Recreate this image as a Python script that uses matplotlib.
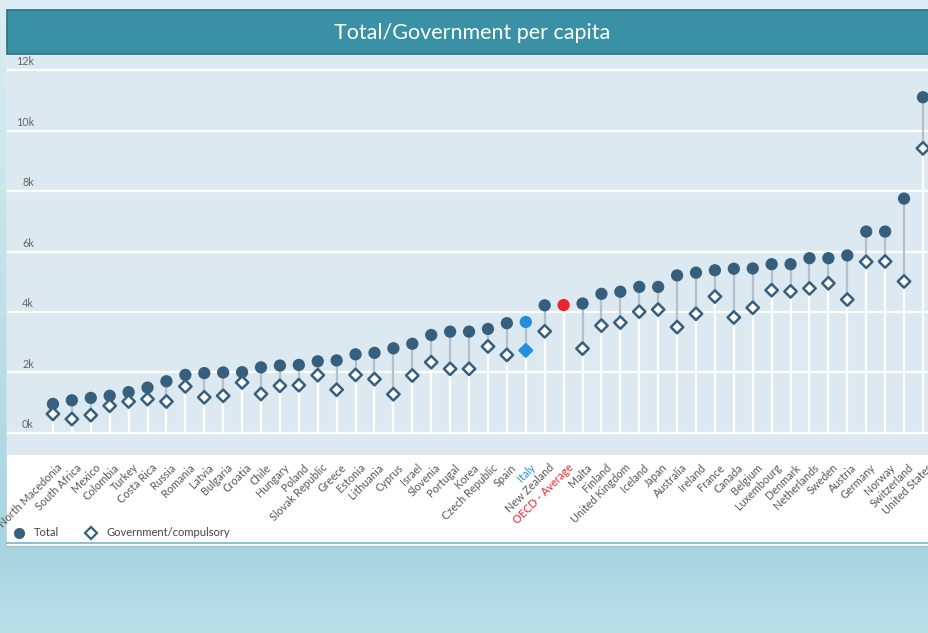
import numpy as np
import matplotlib.pyplot as plt
from matplotlib.patches import Rectangle
from matplotlib.lines import Line2D

countries = ["North Macedonia", "South Africa", "Mexico", "Colombia", "Turkey", "Costa Rica",
             "Russia", "Romania", "Latvia", "Bulgaria", "Croatia", "Chile", "Hungary", "Poland",
             "Slovak Republic", "Greece", "Estonia", "Lithuania", "Cyprus", "Israel", "Slovenia",
             "Portugal", "Korea", "Czech Republic", "Spain", "Italy", "New Zealand",
             "OECD - Average", "Malta", "Finland", "United Kingdom", "Iceland", "Japan",
             "Australia", "Ireland", "France", "Canada", "Belgium", "Luxembourg", "Denmark",
             "Netherlands", "Sweden", "Austria", "Germany", "Norway", "Switzerland", "United States"]
total = [960, 1080, 1160, 1230, 1350, 1500, 1710, 1920, 1980, 2000, 2010, 2170, 2230, 2250,
         2370, 2400, 2600, 2650, 2800, 2950, 3240, 3350, 3350, 3440, 3630, 3670, 4220,
         4230, 4280, 4600, 4670, 4830, 4830, 5210, 5300, 5380, 5430, 5440, 5580, 5580,
         5780, 5780, 5870, 6660, 6660, 7750, 11100]
government = [630, 460, 590, 900, 1040, 1120, 1040, 1540, 1180, 1230, 1670, 1290, 1560, 1580,
              1910, 1430, 1920, 1780, 1280, 1900, 2340, 2120, 2120, 2860, 2580, 2730, 3360,
              np.nan, 2790, 3550, 3650, 4010, 4080, 3500, 3940, 4510, 3820, 4140, 4720, 4680,
              4780, 4950, 4410, 5660, 5670, 5010, 9410]
yticks = [0, 2000, 4000, 6000, 8000, 10000, 12000]
ytick_labels = ["0k", "2k", "4k", "6k", "8k", "10k", "12k"]

W, H = 929, 633
DARK = "#365f7d"
ITALY = "#1e90dc"
OECD = "#e8262d"


def box(x0, y0, x1, y1):
    return [x0 / W, 1 - y1 / H, (x1 - x0) / W, (y1 - y0) / H]


plt.rcParams['font.family'] = ['Lato', 'DejaVu Sans']
fig = plt.figure(figsize=(W / 100, H / 100), dpi=100)

# background
bg = fig.add_axes([0, 0, 1, 1])
bg.set_xlim(0, W)
bg.set_ylim(H, 0)
bg.axis('off')
top = np.array([0xdc, 0xee, 0xf3]) / 255
mid = np.array([0xa8, 0xd4, 0xdf]) / 255
bot = np.array([0xbb, 0xdf, 0xe7]) / 255
t = np.linspace(0, 1, H)[:, None]
grad = np.where(t < 550 / H, top + (mid - top) * (t / (550 / H)),
                mid + (bot - mid) * ((t - 550 / H) / (1 - 550 / H)))
bg.imshow(grad[:, None, :], extent=[0, W, H, 0], aspect='auto')
bg.add_patch(Rectangle((7, 10), W - 7, 535, color='white', zorder=1))
bg.add_patch(Rectangle((7, 10), W - 7, 44, facecolor='#3a90a5', edgecolor='#2b7085', lw=1.2, zorder=2))
bg.plot([7, W], [543, 543], color='#7eb2ca', lw=1.2, zorder=3)
bg.plot([7, W], [546, 546], color='#9cc6d6', lw=1.0, zorder=3)
bg.text(472, 33, "Total/Government per capita", color='white', fontsize=15.5,
        ha='center', va='center', zorder=4)

# main axes
ax = fig.add_axes(box(7, 55, W, 455))
ax.set_facecolor('#dde9f1')
x = np.arange(len(countries))
ax.set_xlim(-2.43, len(countries) - 1 + 0.32)
ax.set_ylim(-728, 12497)
for s in ax.spines.values():
    s.set_visible(False)
ax.set_xticks([])
ax.set_yticks([])
for yv in yticks:
    ax.axhline(yv, color='white', lw=1.6, zorder=1)
for yv, lab in zip(yticks, ytick_labels):
    ax.annotate(lab, xy=(27 / 922, yv), xycoords=('axes fraction', 'data'),
                xytext=(0, 2), textcoords='offset points', ha='right', va='bottom',
                fontsize=7.8, color='#666666')

gov = np.array(government, dtype=float)
tot = np.array(total, dtype=float)
has_gov = ~np.isnan(gov)
stem_top = np.where(has_gov, gov, tot)
ax.vlines(x, 0, stem_top, color='white', lw=1.6, zorder=2)
ax.vlines(x[has_gov], gov[has_gov], tot[has_gov], color='#b3c1cc', lw=1.6, zorder=2)

dot_colors = [ITALY if c == "Italy" else OECD if c.startswith("OECD") else DARK for c in countries]
ax.scatter(x, tot, s=78, c=dot_colors, zorder=4, linewidths=0)
dia_face = ['white' if c != "Italy" else ITALY for c in countries]
dia_edge = [DARK if c != "Italy" else ITALY for c in countries]
ax.scatter(x[has_gov], gov[has_gov], s=40, marker='D', facecolors=np.array(dia_face)[has_gov],
           edgecolors=np.array(dia_edge)[has_gov], linewidths=1.8, zorder=4)

# category labels
for i, c in enumerate(countries):
    col = ITALY if c == "Italy" else OECD if c.startswith("OECD") else '#5a5656'
    ax.annotate(c, xy=(i, 0), xycoords=('data', 'axes fraction'), xytext=(4, -7),
                textcoords='offset pixels', ha='right', va='top', rotation=45,
                rotation_mode='anchor', fontsize=7.8, color=col, annotation_clip=False)

# legend
handles = [Line2D([], [], ls='none', marker='o', ms=8, color=DARK, mew=0),
           Line2D([], [], ls='none', marker='D', ms=6.5, mfc='white', mec=DARK, mew=1.6)]
fig.legend(handles, ["Total", "Government/compulsory"], loc='center left',
           bbox_to_anchor=(0 / W, 1 - 533 / H), ncol=2, frameon=False, fontsize=8,
           handletextpad=0.55, columnspacing=2.1, handlelength=1.6, labelcolor='#444444')

fig.savefig("out.png", dpi=100)
